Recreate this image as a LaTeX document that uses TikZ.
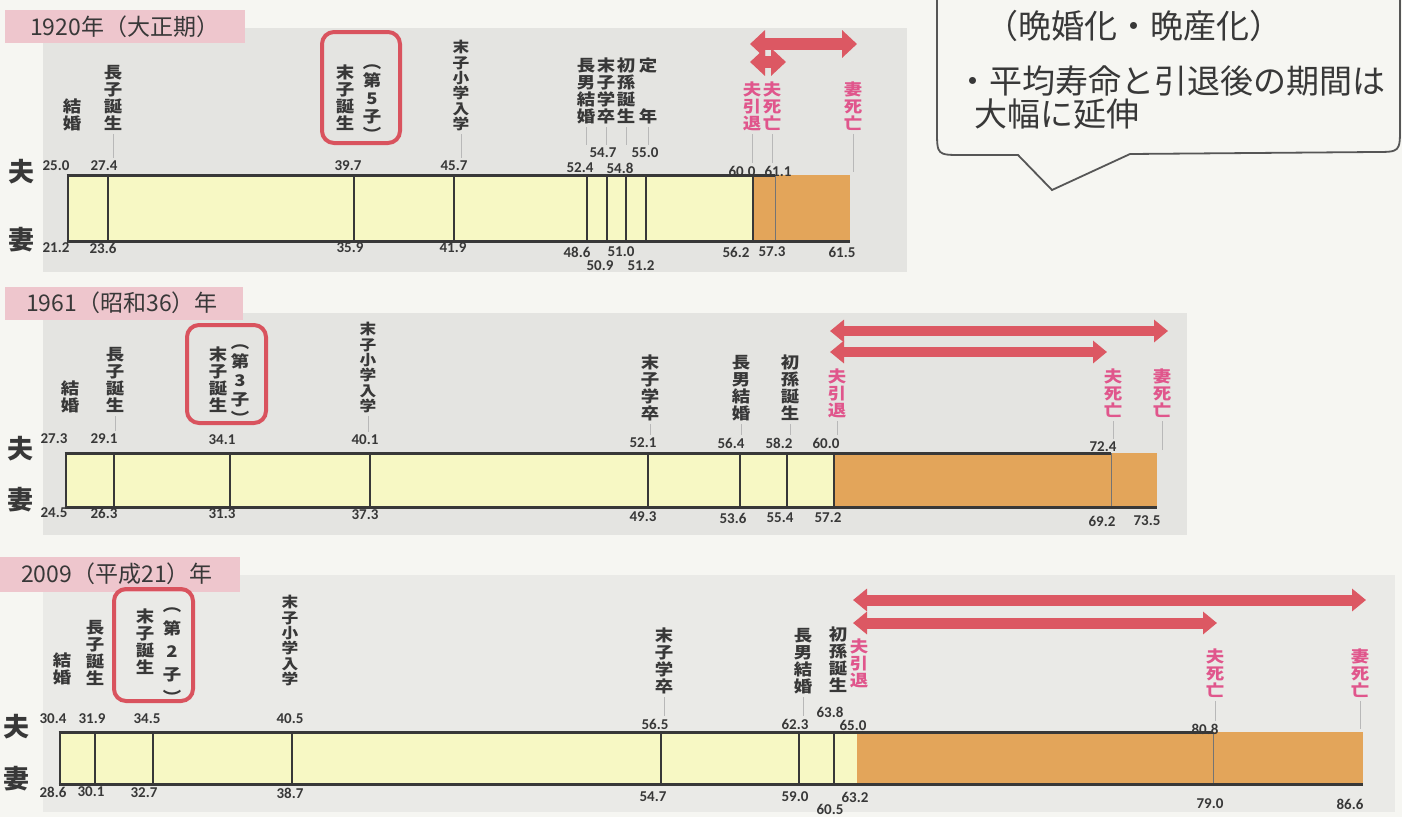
\documentclass[tikz,border=0pt]{standalone}
\usepackage{fontspec}
\newfontfamily\cjk{Noto Sans CJK JP}
\newfontfamily\cjkw{Noto Sans CJK JP}[FakeStretch=1.15]
\newfontfamily\numf{Carlito}
\usetikzlibrary{arrows.meta}
\definecolor{bgc}{HTML}{F6F6F2}
\definecolor{panelc}{HTML}{E4E4E1}
\definecolor{panelcc}{HTML}{EAEAE7}
\definecolor{tagc}{HTML}{EEC6CD}
\definecolor{yel}{HTML}{F7F8C4}
\definecolor{ora}{HTML}{E3A55A}
\definecolor{arr}{HTML}{DC5863}
\definecolor{pk}{HTML}{E0568C}
\definecolor{bx}{HTML}{D9535E}
\definecolor{dk}{HTML}{383838}
\tikzset{
 lab/.style={font=\cjkw\bfseries\fontsize{16}{17}\selectfont, align=center, inner sep=0pt, anchor=south, text=dk},
 labs/.style={lab, font=\cjkw\bfseries\fontsize{14.5}{15.3}\selectfont},
 rlab/.style={lab, text=pk},
 paren/.style={lab, font=\cjkw\bfseries\fontsize{16}{#1}\selectfont},
 num/.style={font=\numf\bfseries\fontsize{15}{15}\selectfont, inner sep=0pt, text=dk},
 who/.style={font=\cjk\bfseries\fontsize{26}{26}\selectfont, inner sep=0pt, text=dk},
 tagtext/.style={font=\cjk\fontsize{23}{23}\selectfont, inner sep=0pt, anchor=west, text=dk},
 calltext/.style={font=\cjk\fontsize{33}{33}\selectfont, inner sep=0pt, anchor=west, text=dk},
 redbox/.style={draw=bx, line width=4pt, rounded corners=12pt, inner sep=0pt},
 leader/.style={draw=black!28, line width=0.6pt, shorten <=3pt, shorten >=3pt},
 bartop/.style={draw=dk, line width=3pt},
 divider/.style={draw=dk, line width=1.4pt},
 thindiv/.style={draw=dk!70, line width=0.8pt},
 bigarr/.style={draw=arr, line width=#1},
 tips1/.style={arrows={Triangle[length=15pt,width=27pt]-Triangle[length=15pt,width=27pt]}},
 tips2/.style={arrows={Triangle[length=14pt,width=22pt]-Triangle[length=14pt,width=22pt]}}
}
\begin{document}
\lineskiplimit=-30pt
\begin{tikzpicture}[x=1pt,y=-1pt]
\useasboundingbox (0,0) rectangle (1402,817);
\fill[bgc] (0,0) rectangle (1402,817);

% ---------- panel backgrounds and title tags ----------
\fill[panelc] (43,28) rectangle (907,272);
\fill[panelc] (43,313) rectangle (1187,535);
\fill[panelcc] (43,575) rectangle (1395,812);
\fill[tagc] (5,10) rectangle (245,43);
\fill[tagc] (5,287) rectangle (243,320);
\fill[tagc] (0,557) rectangle (240,592);
\node[tagtext] (t1) at (30,27) {1920年（大正期）};
\node[tagtext] (t2) at (26,303) {1961（昭和36）年};
\node[tagtext] (t3) at (21,574) {2009（平成21）年};

% ---------- callout ----------
\draw[dk!85, line width=1.8pt, fill=bgc]
  (937,-10) -- (937,130) .. controls (937,155) .. (962,155) -- (1018,155)
  -- (1052,190) -- (1130,154) -- (1375,152) .. controls (1400,152) .. (1400,127) -- (1400,-10);
\node[calltext] (c1) at (985,26) {（晩婚化・晩産化）};
\node[calltext] (c2) at (956,81) {・平均寿命と引退後の期間は};
\node[calltext] (c3) at (974,114) {大幅に延伸};

% ================= PANEL 1 (1920) =================
\fill[yel] (68,175) rectangle (753,241);
\fill[ora] (753,175) rectangle (850,241);
\foreach \x in {108,354,454,587,607,626,646} \draw[divider] (\x,175) -- (\x,241);
\draw[divider] (753,175) -- (753,241);
\draw[thindiv] (775,175) -- (775,241);
\draw[draw=dk, line width=1.8pt] (68,175) -- (68,241);
\draw[bartop] (66.5,175) -- (775,175);
\draw[bartop] (66.5,241) -- (850,241);
\coordinate (p1end) at (851,175);

\node[who] (p1h) at (22,172) {夫};
\node[who] (p1w) at (22,240) {妻};

\node[redbox, minimum width=78, minimum height=111] (box1) at (361,87.5) {};
\node[lab] (p1l1) at (72,131) {結\\婚};
\node[lab] (p1l2) at (113,131) {長\\子\\誕\\生};
\node[lab] (p1l3) at (345,131) {末\\子\\誕\\生};
\node[paren=18] (p1l3b) at (372,141) {︵\\第\\5\\子\\︶};
\node[labs] (p1l4) at (461,131) {末\\子\\小\\学\\入\\学};
\node[lab] (p1l5) at (586,124) {長\\男\\結\\婚};
\node[lab] (p1l6) at (606,124) {末\\子\\学\\卒};
\node[lab] (p1l7) at (626,124) {初\\孫\\誕\\生};
\node[lab] (p1l8) at (648,124) {定\\[34pt]年};
\node[rlab] (p1r1) at (752,131) {夫\\引\\退};
\node[rlab] (p1r2) at (772,131) {夫\\死\\亡};
\node[rlab] (p1r3) at (853,131) {妻\\死\\亡};

\node[num] (p1t1) at (56,166) {25.0};
\node[num] (p1t2) at (104,166) {27.4};
\node[num] (p1t3) at (348,166) {39.7};
\node[num] (p1t4) at (454,166) {45.7};
\node[num] (p1t5) at (580,168) {52.4};
\node[num] (p1t6) at (603,153) {54.7};
\node[num] (p1t7) at (620,168) {54.8};
\node[num] (p1t8) at (645,153) {55.0};
\node[num] (p1t9) at (742,171) {60.0};
\node[num] (p1t10) at (778,171) {61.1};
\node[num] (p1b1) at (56,248) {21.2};
\node[num] (p1b2) at (103,248) {23.6};
\node[num] (p1b3) at (350,248) {35.9};
\node[num] (p1b4) at (453,248) {41.9};
\node[num] (p1b5) at (577,252) {48.6};
\node[num] (p1b6) at (600,266) {50.9};
\node[num] (p1b7) at (621,252) {51.0};
\node[num] (p1b8) at (641,266) {51.2};
\node[num] (p1b9) at (736,252) {56.2};
\node[num] (p1b10) at (772,252) {57.3};
\node[num] (p1b11) at (842,252) {61.5};

\draw[leader] (p1l2.south) -- (p1l2.south |- p1t2.north);
\draw[leader] (p1l4.south) -- (p1l4.south |- p1t4.north);
\draw[leader] (p1l5.south) -- (p1l5.south |- p1t6.north);
\draw[leader] (p1l6.south) -- (p1l6.south |- p1t6.north);
\draw[leader] (p1l7.south) -- (p1l7.south |- p1t8.north);
\draw[leader] (p1l8.south) -- (p1l8.south |- p1t8.north);
\draw[leader] (p1r1.south) -- (p1r1.south |- p1t9.north);
\draw[leader] (p1r2.south) -- (p1r2.south |- p1t10.north);
\draw[leader] (p1r3.south) -- (p1r3.south |- p1end);

\coordinate (a1l) at (750,44);
\coordinate (a1r) at (857,44);
\coordinate (a2l) at (750,62);
\coordinate (a2r) at (786,62);
\draw[bigarr=12pt, tips1] (a1l) -- (a1r);
\draw[bigarr=12pt, tips1] (a2l) -- (a2r);

% ================= PANEL 2 (1961) =================
\fill[yel] (66,453) rectangle (834,507);
\fill[ora] (834,453) rectangle (1157,507);
\foreach \x in {114,230,370,648,740,787} \draw[divider] (\x,453) -- (\x,507);
\draw[divider] (834,453) -- (834,507);
\draw[thindiv] (1111,453) -- (1111,507);
\draw[draw=dk, line width=1.8pt] (66,453) -- (66,507);
\draw[bartop] (64.5,453) -- (1111,453);
\draw[bartop] (64.5,507) -- (1157,507);
\coordinate (p2end) at (1158,453);

\node[who] (p2h) at (21,449) {夫};
\node[who] (p2w) at (21,500) {妻};

\node[redbox, minimum width=79, minimum height=98] (box2) at (226.5,374) {};
\node[lab] (p2l1) at (70,413) {結\\婚};
\node[lab] (p2l2) at (115,413) {長\\子\\誕\\生};
\node[lab] (p2l3) at (218,413) {末\\子\\誕\\生};
\node[paren=19] (p2l3b) at (240,425) {︵\\第\\3\\子\\︶};
\node[labs] (p2l4) at (368,413) {末\\子\\小\\学\\入\\学};
\node[lab] (p2l5) at (650,421) {末\\子\\学\\卒};
\node[lab] (p2l6) at (741,421) {長\\男\\結\\婚};
\node[lab] (p2l7) at (790,421) {初\\孫\\誕\\生};
\node[rlab] (p2r1) at (837,418) {夫\\引\\退};
\node[rlab] (p2r2) at (1113,418) {夫\\死\\亡};
\node[rlab] (p2r3) at (1162,418) {妻\\死\\亡};

\node[num] (p2t1) at (54,439) {27.3};
\node[num] (p2t2) at (104,439) {29.1};
\node[num] (p2t3) at (222,440) {34.1};
\node[num] (p2t4) at (365,440) {40.1};
\node[num] (p2t5) at (643,443) {52.1};
\node[num] (p2t6) at (731,443) {56.4};
\node[num] (p2t7) at (779,443) {58.2};
\node[num] (p2t8) at (826,443) {60.0};
\node[num] (p2t9) at (1103,447) {72.4};
\node[num] (p2b1) at (54,513) {24.5};
\node[num] (p2b2) at (104,513) {26.3};
\node[num] (p2b3) at (222,514) {31.3};
\node[num] (p2b4) at (365,515) {37.3};
\node[num] (p2b5) at (643,517) {49.3};
\node[num] (p2b6) at (733,518) {53.6};
\node[num] (p2b7) at (780,518) {55.4};
\node[num] (p2b8) at (828,518) {57.2};
\node[num] (p2b9) at (1102,521) {69.2};
\node[num] (p2b10) at (1147,521) {73.5};

\draw[leader] (p2l2.south) -- (p2l2.south |- p2t2.north);
\draw[leader] (p2l4.south) -- (p2l4.south |- p2t4.north);
\draw[leader] (p2l5.south) -- (p2l5.south |- p2t5.north);
\draw[leader] (p2l6.south) -- (p2l6.south |- p2t6.north);
\draw[leader] (p2l7.south) -- (p2l7.south |- p2t7.north);
\draw[leader] (p2r1.south) -- (p2r1.south |- p2t8.north);
\draw[leader] (p2r2.south) -- (p2r2.south |- p2t9.north);
\draw[leader] (p2r3.south) -- (p2r3.south |- p2end);

\coordinate (a3l) at (830,331);
\coordinate (a3r) at (1168,331);
\coordinate (a4l) at (830,352);
\coordinate (a4r) at (1107,352);
\draw[bigarr=10pt, tips2] (a3l) -- (a3r);
\draw[bigarr=10pt, tips2] (a4l) -- (a4r);

% ================= PANEL 3 (2009) =================
\fill[yel] (60,732) rectangle (857,784);
\fill[ora] (857,732) rectangle (1363,784);
\foreach \x in {95,153,292,661,799,834} \draw[divider] (\x,732) -- (\x,784);
\draw[thindiv] (1213,732) -- (1213,784);
\draw[draw=dk, line width=1.8pt] (60,732) -- (60,784);
\draw[bartop] (58.5,732) -- (1213,732);
\draw[bartop] (58.5,784) -- (1363,784);
\coordinate (p3end) at (1362,732);

\node[who] (p3h) at (17,727) {夫};
\node[who] (p3w) at (17,779) {妻};

\node[redbox, minimum width=79, minimum height=112] (box3) at (153.5,645) {};
\node[lab] (p3l1) at (62,685) {結\\婚};
\node[lab] (p3l2) at (95,686) {長\\子\\誕\\生};
\node[lab] (p3l3) at (145,675) {末\\子\\誕\\生};
\node[paren=23] (p3l3b) at (172,704) {︵\\第\\2\\子\\︶};
\node[labs] (p3l4) at (290,686) {末\\子\\小\\学\\入\\学};
\node[lab] (p3l5) at (664,694) {末\\子\\学\\卒};
\node[lab] (p3l6) at (803,694) {長\\男\\結\\婚};
\node[lab] (p3l7) at (838,693) {初\\孫\\誕\\生};
\node[rlab] (p3r1) at (859,688) {夫\\引\\退};
\node[rlab] (p3r2) at (1215,698) {夫\\死\\亡};
\node[rlab] (p3r3) at (1360,698) {妻\\死\\亡};

\node[num] (p3t1) at (53,719) {30.4};
\node[num] (p3t2) at (92,719) {31.9};
\node[num] (p3t3) at (147,719) {34.5};
\node[num] (p3t4) at (290,719) {40.5};
\node[num] (p3t5) at (655,724) {56.5};
\node[num] (p3t6) at (795,724) {62.3};
\node[num] (p3t7) at (830,712) {63.8};
\node[num] (p3t8) at (853,725) {65.0};
\node[num] (p3t9) at (1205,729) {80.8};
\node[num] (p3b1) at (53,792) {28.6};
\node[num] (p3b2) at (91,792) {30.1};
\node[num] (p3b3) at (144,793) {32.7};
\node[num] (p3b4) at (290,793) {38.7};
\node[num] (p3b5) at (653,797) {54.7};
\node[num] (p3b6) at (795,797) {59.0};
\node[num] (p3b7) at (830,809) {60.5};
\node[num] (p3b8) at (855,797) {63.2};
\node[num] (p3b9) at (1210,804) {79.0};
\node[num] (p3b10) at (1350,804) {86.6};

\draw[leader] (p3l5.south) -- (p3l5.south |- p3t5.north);
\draw[leader] (p3l6.south) -- (p3l6.south |- p3t6.north);
\draw[leader] (p3r2.south) -- (p3r2.south |- p3t9.north);
\draw[leader] (p3r3.south) -- (p3r3.south |- p3end);

\coordinate (a5l) at (853,600);
\coordinate (a5r) at (1366,600);
\coordinate (a6l) at (853,623);
\coordinate (a6r) at (1217,623);
\draw[bigarr=11pt, tips2] (a5l) -- (a5r);
\draw[bigarr=11pt, tips2] (a6l) -- (a6r);
\end{tikzpicture}
\end{document}
